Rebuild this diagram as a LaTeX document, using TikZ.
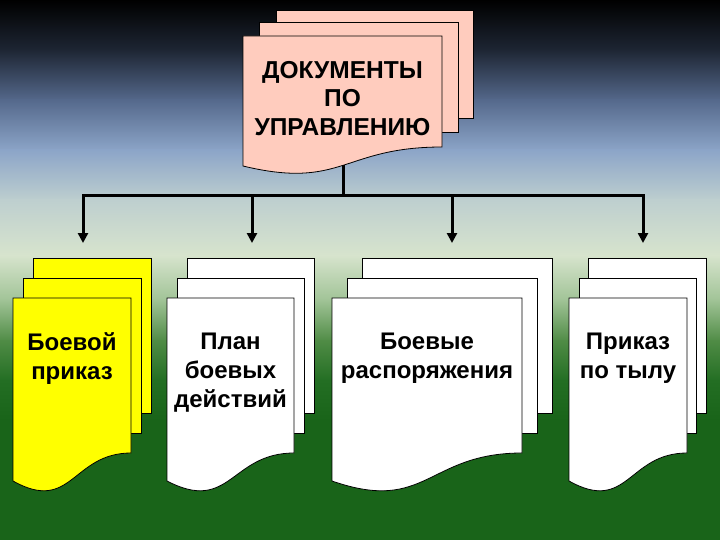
\documentclass[tikz,border=0pt]{standalone}
\usepackage{fontspec}
\setmainfont{Liberation Sans}
\usetikzlibrary{arrows.meta}
\definecolor{bgA}{RGB}{0,0,0}
\definecolor{bgB}{RGB}{30,38,52}
\definecolor{bgC}{RGB}{85,105,140}
\definecolor{bgD}{RGB}{140,165,200}
\definecolor{bgE}{RGB}{190,207,207}
\definecolor{bgF}{RGB}{215,228,205}
\definecolor{bgG}{RGB}{160,195,150}
\definecolor{bgH}{RGB}{80,140,70}
\definecolor{bgI}{RGB}{35,110,35}
\definecolor{bgJ}{RGB}{25,100,25}
\definecolor{pinkdoc}{RGB}{255,204,190}
\definecolor{yellowdoc}{RGB}{255,255,0}
\tikzset{
  docline/.style={draw=black, line width=0.8pt},
  conn/.style={line width=3pt, black},
  tip/.style={-{Triangle[width=10pt,length=10pt]}},
  doctext/.style={font=\bfseries\fontsize{24}{29}\selectfont, align=center, inner sep=0pt, anchor=north},
  toptext/.style={font=\bfseries\fontsize{24.5}{28.5}\selectfont, align=center, inner sep=0pt, anchor=north}
}
% #1 left x, #2 right x, #3 top y, #4 right-end offset, #5 control offset, #6 left-end offset, #7 fill
\newcommand\WaveDoc[7]{%
  \filldraw[docline, fill=#7] (#1,#3) -- (#2,#3) -- (#2,#3+#4)
    .. controls ({(#1+#2)/2},#3+#4) and ({(#1+#2)/2},#3+#5) .. (#1,#3+#6) -- cycle;}
% #1 left, #2 right, #3 top, #4 bottom, #5 fill
\newcommand\BackPage[5]{%
  \filldraw[docline, fill=#5] (#1,#3) rectangle (#2,#4);}
\begin{document}
\begin{tikzpicture}[x=1pt, y=-1pt]
\useasboundingbox (0,0) rectangle (720,540);
% background
\shade[top color=bgA, bottom color=bgB] (0,0) rectangle (720,51);
\shade[top color=bgB, bottom color=bgC] (0,50) rectangle (720,101);
\shade[top color=bgC, bottom color=bgD] (0,100) rectangle (720,151);
\shade[top color=bgD, bottom color=bgE] (0,150) rectangle (720,201);
\shade[top color=bgE, bottom color=bgF] (0,200) rectangle (720,256);
\shade[top color=bgF, bottom color=bgG] (0,255) rectangle (720,301);
\shade[top color=bgG, bottom color=bgH] (0,300) rectangle (720,341);
\shade[top color=bgH, bottom color=bgI] (0,340) rectangle (720,381);
\shade[top color=bgI, bottom color=bgJ] (0,380) rectangle (720,421);
\fill[bgJ] (0,420) rectangle (720,540);

% top document stack
\BackPage{276}{473}{10}{118}{pinkdoc}
\BackPage{259}{458}{22}{132}{pinkdoc}
\WaveDoc{243}{442}{36}{111}{154}{130}{pinkdoc}
\node[toptext] (top) at (342.5,60.8) {ДОКУМЕНТЫ\\ПО\\УПРАВЛЕНИЮ};

% bottom document stacks
\BackPage{33}{151}{258}{413}{yellowdoc}
\BackPage{23}{141}{278}{433}{yellowdoc}
\WaveDoc{13}{131}{298}{155}{216}{183}{yellowdoc}
\node[doctext] (d1) at (72,332.8) {Боевой\\приказ};

\BackPage{187}{314}{258}{413}{white}
\BackPage{177}{304}{278}{433}{white}
\WaveDoc{167}{294}{298}{155}{216}{183}{white}
\node[doctext] (d2) at (230.5,332.8) {План\\боевых\\действий};

\BackPage{362}{552}{258}{413}{white}
\BackPage{347}{537}{278}{433}{white}
\WaveDoc{332}{522}{298}{155}{216}{183}{white}
\node[doctext] (d3) at (427,332.8) {Боевые\\распоряжения};

\BackPage{588}{706}{258}{413}{white}
\BackPage{579}{696}{278}{433}{white}
\WaveDoc{569}{687}{298}{155}{216}{183}{white}
\node[doctext] (d4) at (628,332.8) {Приказ\\по тылу};

% connectors
\coordinate (src) at (343,165);
\coordinate (hub) at (343,196);
\coordinate (h1) at (83,196);
\coordinate (h2) at (252,196);
\coordinate (h3) at (452,196);
\coordinate (h4) at (643,196);
\coordinate (a1) at (83,243);
\coordinate (a2) at (252,243);
\coordinate (a3) at (452,243);
\coordinate (a4) at (643,243);
\draw[conn] (src) -- (hub);
\draw[conn, {Triangle[width=10pt,length=10pt]}-{Triangle[width=10pt,length=10pt]}] (a1) -- (h1) -- (h4) -- (a4);
\draw[conn, tip] (h2) -- (a2);
\draw[conn, tip] (h3) -- (a3);
\end{tikzpicture}
\end{document}
